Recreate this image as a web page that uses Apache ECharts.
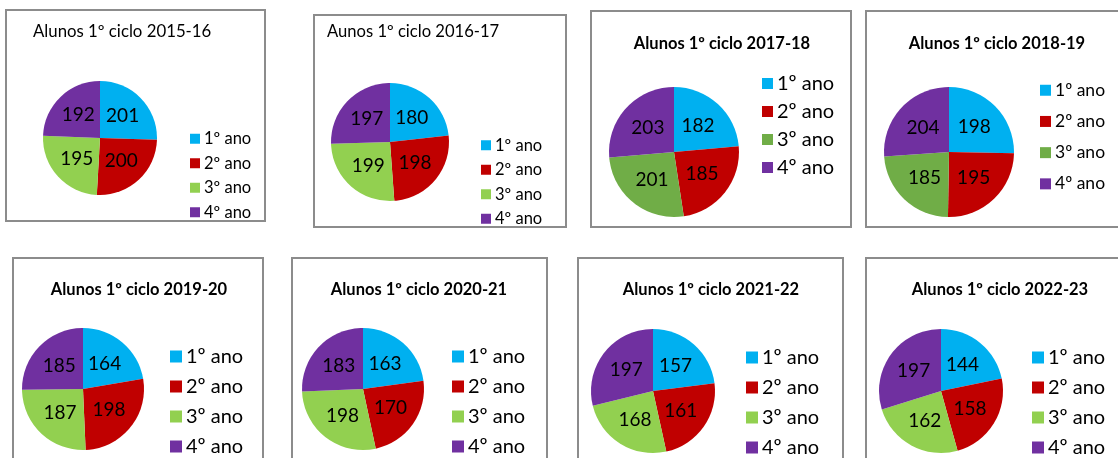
<!DOCTYPE html>
<html>
<head>
<meta charset="utf-8">
<script src="https://cdn.jsdelivr.net/npm/echarts@6/dist/echarts.min.js"></script>
<style>
  html, body { margin: 0; padding: 0; background: #fff; width: 1118px; height: 458px; overflow: hidden; position: relative; }
  .panel { position: absolute; }
</style>
</head>
<body>
<script>
// ---- data ----
const categories = ['1º ano', '2º ano', '3º ano', '4º ano'];
const titles = [
  'Alunos 1º ciclo 2015-16', 'Aunos 1º ciclo 2016-17', 'Alunos 1º ciclo 2017-18', 'Alunos 1º ciclo 2018-19',
  'Alunos 1º ciclo 2019-20', 'Alunos 1º ciclo 2020-21', 'Alunos 1º ciclo 2021-22', 'Alunos 1º ciclo 2022-23'
];
const values2015 = [201, 200, 195, 192];
const values2016 = [180, 198, 199, 197];
const values2017 = [182, 185, 201, 203];
const values2018 = [198, 195, 185, 204];
const values2019 = [164, 198, 187, 185];
const values2020 = [163, 170, 198, 183];
const values2021 = [157, 161, 168, 197];
const values2022 = [144, 158, 162, 197];
const allValues = [values2015, values2016, values2017, values2018, values2019, values2020, values2021, values2022];

// ---- layout / style ----
const colorsLight = ['#00B0F0', '#C00000', '#92D050', '#7030A0'];
const colorsDark = ['#00B0F0', '#C00000', '#70AD47', '#7030A0'];
const FONT = 'Lato, "Open Sans", sans-serif';
const layouts = [
  {l:5,   t:9,   w:261, h:213, title:{left:28, cy:22.5, size:16.8, bold:false}, pie:{cx:95, cy:129, r:57}, leg:{x:185, y0:129.5, step:24, fs:16.5, sq:10}, colors:colorsLight, lab:19},
  {l:313, t:14,  w:254, h:214, title:{left:14, cy:18, size:16.6, bold:false}, pie:{cx:77, cy:128, r:59}, leg:{x:168, y0:131, step:24, fs:16.5, sq:10}, colors:colorsLight, lab:19},
  {l:590, t:10,  w:262, h:218, title:{center:132, cy:33.5, size:16.5, bold:true}, pie:{cx:84, cy:142, r:65}, leg:{x:172, y0:73.5, step:28, fs:20, sq:11}, colors:colorsDark, lab:19},
  {l:865, t:10,  w:260, h:218, title:{center:132, cy:33.5, size:16.5, bold:true}, pie:{cx:84, cy:142, r:65}, leg:{x:175, y0:80, step:30.7, fs:17.5, sq:11}, colors:colorsDark, lab:19},
  {l:12,  t:257, w:252, h:230, title:{center:127, cy:32.5, size:16.5, bold:true}, pie:{cx:71, cy:132, r:61}, leg:{x:158, y0:99.5, step:30, fs:20, sq:12}, colors:colorsLight, lab:19},
  {l:291, t:257, w:257, h:230, title:{center:128, cy:32.5, size:16.5, bold:true}, pie:{cx:72, cy:132, r:61}, leg:{x:161, y0:99.5, step:30, fs:20, sq:12}, colors:colorsLight, lab:19},
  {l:577, t:257, w:267, h:230, title:{center:134, cy:32.5, size:16.5, bold:true}, pie:{cx:76, cy:134, r:62}, leg:{x:169, y0:100.5, step:30, fs:20, sq:12}, colors:colorsLight, lab:19},
  {l:865, t:257, w:260, h:230, title:{center:135, cy:32.5, size:16.5, bold:true}, pie:{cx:76, cy:134, r:62}, leg:{x:167, y0:100.5, step:30, fs:20, sq:12}, colors:colorsLight, lab:19}
];

layouts.forEach((L, i) => {
  const div = document.createElement('div');
  div.className = 'panel';
  div.style.left = L.l + 'px';
  div.style.top = L.t + 'px';
  div.style.width = L.w + 'px';
  div.style.height = L.h + 'px';
  document.body.appendChild(div);
  const chart = echarts.init(div, null, {renderer: 'canvas'});
  const lh = L.leg.fs;
  const titleOpt = {
    text: titles[i],
    top: L.title.cy - L.title.size / 2 - 1,
    textStyle: {fontFamily: FONT, fontSize: L.title.size, fontWeight: L.title.bold ? 'bold' : 'normal', color: '#000', lineHeight: L.title.size + 2},
    padding: 0
  };
  if (L.title.bold) { titleOpt.left = L.title.center; titleOpt.textAlign = 'center'; }
  else { titleOpt.left = L.title.left; }
  chart.setOption({
    animation: false,
    color: L.colors,
    title: titleOpt,
    graphic: [{type: 'rect', shape: {x: 1, y: 1, width: L.w - 2, height: L.h - 2}, style: {fill: 'none', stroke: '#8c8c8c', lineWidth: 2}, silent: true, z: 100}],
    legend: {
      orient: 'vertical',
      left: L.leg.x,
      top: L.leg.y0 - lh / 2,
      padding: 0,
      itemGap: L.leg.step - lh,
      itemWidth: L.leg.sq,
      itemHeight: L.leg.sq,
      icon: 'rect',
      data: categories,
      textStyle: {fontFamily: FONT, fontSize: L.leg.fs, color: '#000', lineHeight: lh, padding: [0, 0, 0, -1]}
    },
    series: [{
      type: 'pie',
      center: [L.pie.cx, L.pie.cy],
      radius: L.pie.r,
      startAngle: 90,
      clockwise: true,
      avoidLabelOverlap: false,
      label: {show: true, position: 'inside', formatter: '{c}', fontFamily: FONT, fontSize: L.lab, color: '#000', textBorderWidth: 0},
      labelLine: {show: false},
      itemStyle: {borderWidth: 0},
      emphasis: {disabled: true},
      data: categories.map((c, k) => ({name: c, value: allValues[i][k]}))
    }]
  });
});
</script>
</body>
</html>
